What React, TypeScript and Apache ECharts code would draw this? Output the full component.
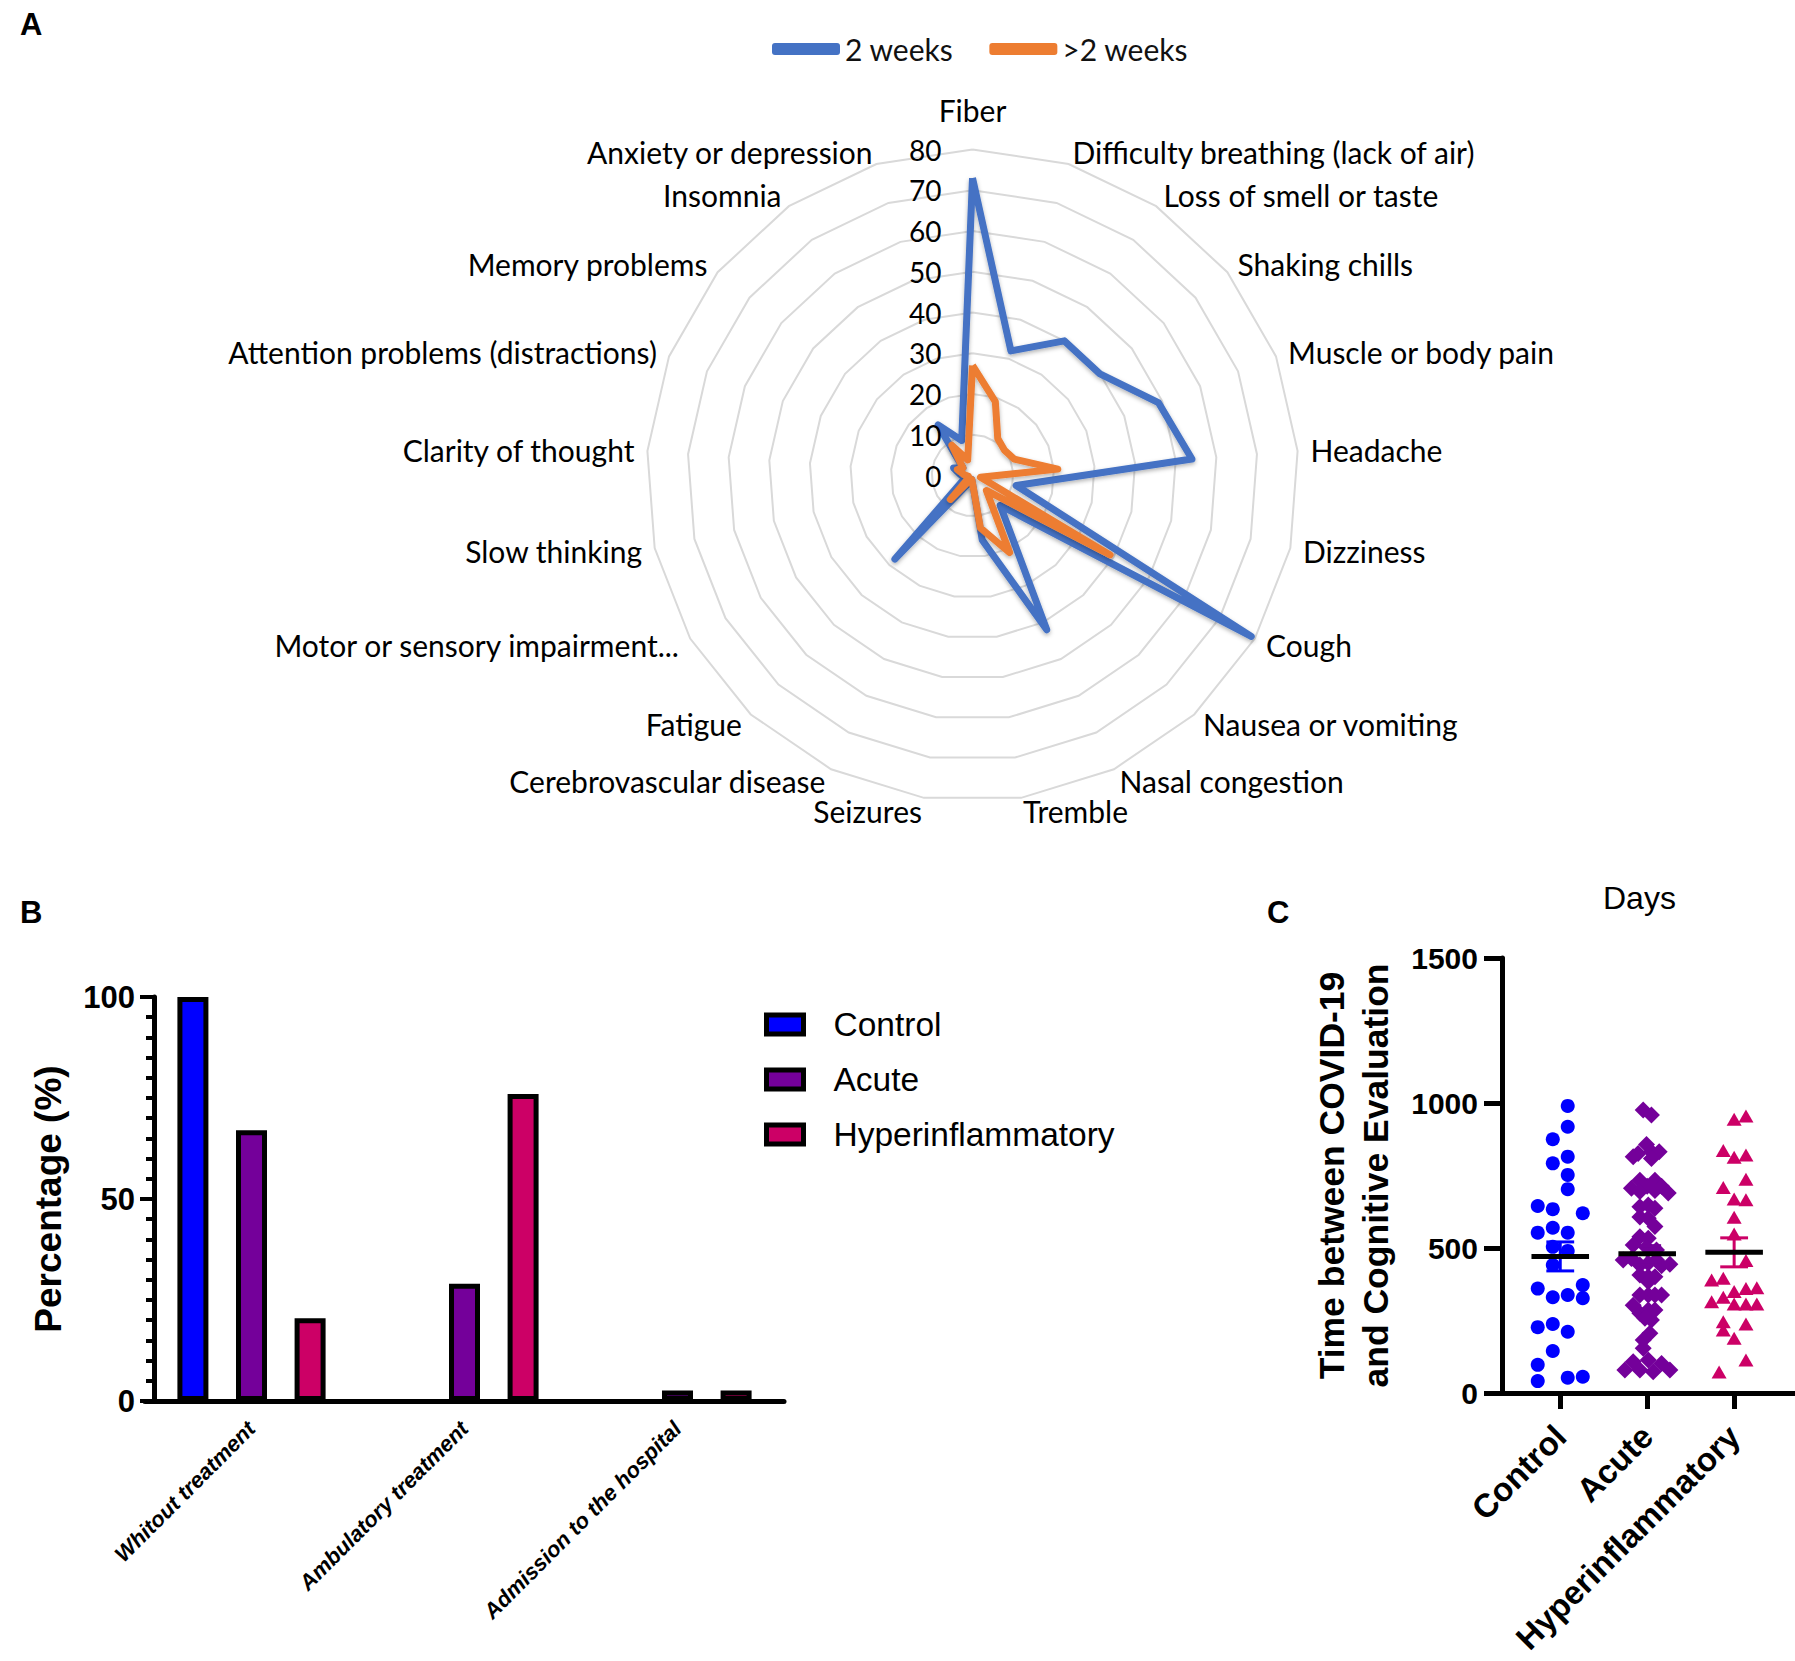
import React, { useEffect, useRef } from "react";
import * as echarts from "echarts";

// ---------- Panel A: radar ----------
const symptomCategories = [
  "Fiber",
  "Difficulty breathing (lack of air)",
  "Loss of smell or taste",
  "Shaking chills",
  "Muscle or body pain",
  "Headache",
  "Dizziness",
  "Cough",
  "Nausea or vomiting",
  "Nasal congestion",
  "Tremble",
  "Seizures",
  "Cerebrovascular disease",
  "Fatigue",
  "Motor or sensory impairment...",
  "Slow thinking",
  "Clarity of thought",
  "Attention problems (distractions)",
  "Memory problems",
  "Insomnia",
  "Anxiety or depression",
];
const twoWeeks = [73, 32, 40, 40, 49, 54, 11, 79, 10, 42, 16, 1, 2, 28, 3, 2, 3, 5, 3, 15, 9];
const moreThanTwoWeeks = [27, 19, 11, 10, 11, 21, 2, 39, 5, 21, 13, 1, 1, 8, 1, 1, 2, 4, 3, 9, 4];
const radarSeriesNames = ["2 weeks", ">2 weeks"];
const radarMax = 80;
const radarTickStep = 10;

// ---------- Panel B: bars ----------
const treatmentCategories = ["Whitout treatment", "Ambulatory treatment", "Admission to the hospital"];
const groupNames = ["Control", "Acute", "Hyperinflammatory"];
const controlPct = [100, 0, 0];
const acutePct = [67, 29, 2.6];
const hyperPct = [20.5, 76, 2.6];

// ---------- Panel C: scatter (days) ----------
const controlDays = [990, 918, 875, 815, 792, 752, 703, 645, 634, 620, 553, 570, 553, 504, 490, 441, 360, 330, 338, 372, 327, 227, 238, 211, 145, 97, 41, 53, 56];
const controlJitter = [0.086, 0.086, -0.086, 0.086, -0.086, 0.086, 0.086, -0.259, -0.086, 0.259, -0.259, -0.086, 0.086, -0.086, 0.086, -0.086, -0.259, -0.086, 0.086, 0.259, 0.259, -0.259, -0.086, 0.086, -0.086, -0.259, -0.259, 0.086, 0.259];
const acuteDays = [976, 959, 857, 826, 832, 832, 809, 815, 706, 734, 713, 734, 713, 690, 695, 698, 642, 648, 637, 607, 603, 574, 539, 534, 510, 503, 493, 459, 464, 441, 447, 459, 439, 444, 407, 401, 401, 384, 338, 338, 338, 338, 303, 275, 286, 286, 258, 252, 206, 183, 154, 79, 108, 79, 114, 73, 102, 79];
const acuteJitter = [-0.046, 0.049, -0.008, -0.104, 0.049, 0.138, 0.049, -0.161, -0.181, -0.084, 0, 0.089, 0.165, 0.242, -0.084, 0.089, -0.084, 0.012, 0.089, -0.084, 0.012, 0.089, -0.084, 0.012, -0.161, -0.008, 0.107, -0.276, -0.181, -0.084, 0.012, 0.107, 0.165, 0.261, -0.084, 0.012, 0.089, 0.012, -0.084, 0.012, 0.089, 0.165, -0.161, -0.084, 0.012, 0.089, -0.026, 0.049, 0.031, -0.046, -0.046, -0.257, -0.161, -0.084, 0.012, 0.069, 0.165, 0.261];
const hyperDays = [944, 955, 836, 813, 821, 737, 709, 669, 666, 606, 548, 457, 390, 396, 350, 360, 363, 315, 330, 307, 307, 307, 246, 238, 217, 189, 114, 72];
const hyperJitter = [0, 0.136, -0.125, 0, 0.136, 0.136, -0.125, 0, 0.136, 0, 0, 0.136, -0.259, -0.125, 0, 0.136, 0.261, -0.259, -0.125, 0, 0.136, 0.261, -0.125, 0.136, -0.125, 0, 0.136, -0.173];
const groupMeans = [471, 480, 485];
const groupSem = [50, 28, 50];
const daysTicks = [0, 500, 1000, 1500];

const ARIAL = "'Liberation Sans', Arial, sans-serif";
const CAL = "Lato, 'Open Sans', sans-serif";
const barColors = ["#0000FF", "#74009A", "#CC0066"];

function buildOption() {
  // radar indicators clockwise (ECharts places them counter-clockwise)
  const order = [0, ...symptomCategories.map((_, i) => i).slice(1).reverse()];
  const indicator = order.map((i) => ({ name: symptomCategories[i], min: 0, max: radarMax }));
  const twoW = order.map((i) => twoWeeks[i]);
  const moreW = order.map((i) => moreThanTwoWeeks[i]);

  const mkScatter = (days: number[], jit: number[], g: number) =>
    days.map((d, i) => [g + 1 + jit[i], d]);

  const barSeries = [controlPct, acutePct, hyperPct].map((vals, i) => ({
    name: groupNames[i],
    type: "bar",
    xAxisIndex: 0,
    yAxisIndex: 0,
    data: vals.map((v) => (v === 0 ? { value: 0, itemStyle: { borderWidth: 0 } } : v)),
    barWidth: 31,
    barGap: "89%",
    itemStyle: { color: barColors[i], borderColor: "#000", borderWidth: 5 },
  }));

  const symbols = ["circle", "diamond", "triangle"];
  const sizes: any[] = [14, 17, [15, 13]];
  const scatterData = [
    mkScatter(controlDays, controlJitter, 0),
    mkScatter(acuteDays, acuteJitter, 1),
    mkScatter(hyperDays, hyperJitter, 2),
  ];
  const scatterSeries = scatterData.map((d, i) => ({
    name: groupNames[i] + " days",
    type: "scatter",
    xAxisIndex: 1,
    yAxisIndex: 1,
    data: d,
    symbol: symbols[i],
    symbolSize: sizes[i],
    itemStyle: { color: barColors[i], opacity: 1 },
    silent: true,
  }));

  const panelLetter = { fontSize: 31, fontWeight: "bold", fontFamily: ARIAL, color: "#000" };

  return {
    animation: false,
    backgroundColor: "#fff",
    title: [
      { text: "A", left: 20, top: 9, padding: 0, textStyle: panelLetter },
      { text: "B", left: 20, top: 897, padding: 0, textStyle: panelLetter },
      { text: "C", left: 1267, top: 897, padding: 0, textStyle: panelLetter },
      { text: "Days", left: 1603, top: 882, padding: 0, textStyle: { fontSize: 32, fontWeight: "normal", fontFamily: ARIAL, color: "#000" } },
    ],
    legend: [
      {
        data: radarSeriesNames,
        left: 767,
        top: 29,
        icon: "roundRect",
        itemWidth: 68,
        itemHeight: 12,
        itemGap: 36,
        textStyle: { fontSize: 30, fontFamily: CAL, color: "#111" },
      },
      {
        data: groupNames,
        orient: "vertical",
        left: 759,
        top: 1002,
        icon: "rect",
        itemWidth: 37,
        itemHeight: 19,
        itemGap: 20,
        itemStyle: { borderColor: "#000", borderWidth: 5 },
        textStyle: { fontSize: 33.5, fontFamily: ARIAL, color: "#000", lineHeight: 35, padding: [0, 0, 0, 25] },
      },
    ],
    radar: {
      center: [972.5, 475.5],
      radius: 326,
      startAngle: 90,
      shape: "polygon",
      splitNumber: radarMax / radarTickStep,
      indicator,
      nameGap: 13,
      axisName: {
        color: "#000",
        fontSize: 30,
        fontFamily: CAL,
        formatter: (name: string) => (name === symptomCategories[0] ? "{top|" + name + "}" : name),
        rich: { top: { fontSize: 30, fontFamily: CAL, color: "#000", padding: [0, 0, 12, 0] } },
      },
      axisLine: { show: false },
      axisTick: { show: false },
      axisLabel: { show: false },
      splitArea: { show: false },
      splitLine: { lineStyle: { color: "#D9D9D9", width: 2 } },
    },
    polar: { center: [972.5, 475.5], radius: 326 },
    angleAxis: { type: "value", min: 0, max: 360, startAngle: 90, show: false },
    radiusAxis: {
      type: "value",
      min: 0,
      max: radarMax,
      interval: radarTickStep,
      axisLine: { show: false },
      axisTick: { show: false },
      splitLine: { show: false },
      axisLabel: { fontSize: 28, fontFamily: CAL, color: "#000", margin: 31 },
      z: 5,
    },
    grid: [
      { left: 145, top: 997, width: 639, height: 404 },
      { left: 1502, top: 958, width: 293, height: 435 },
    ],
    xAxis: [
      {
        type: "category",
        gridIndex: 0,
        data: treatmentCategories,
        axisLine: { lineStyle: { color: "#000", width: 5 } },
        axisTick: { alignWithLabel: true, length: 16, lineStyle: { color: "#000", width: 4 } },
        axisLabel: { rotate: 45, fontSize: 22, fontWeight: "bold", fontStyle: "italic", fontFamily: ARIAL, color: "#000", margin: 24 },
      },
      {
        type: "value",
        gridIndex: 1,
        min: 0.33,
        max: 3.7,
        splitLine: { show: false },
        axisLine: { onZero: false, lineStyle: { color: "#000", width: 5 } },
        axisTick: { show: true, customValues: [1, 2, 3], length: 16, lineStyle: { color: "#000", width: 5 } },
        axisLabel: {
          customValues: [1, 2, 3],
          formatter: (v: number) => groupNames[Math.round(v) - 1] || "",
          rotate: 45,
          fontSize: 33,
          fontWeight: "bold",
          fontFamily: ARIAL,
          color: "#000",
          margin: 38,
        },
      },
    ],
    yAxis: [
      {
        type: "value",
        gridIndex: 0,
        offset: -9,
        min: 0,
        max: 100,
        interval: 50,
        name: "Percentage (%)",
        nameLocation: "middle",
        nameRotate: 90,
        nameGap: 87,
        nameTextStyle: { fontSize: 37, fontWeight: "bold", fontFamily: ARIAL, color: "#000" },
        splitLine: { show: false },
        axisLine: { show: true, lineStyle: { color: "#000", width: 5 } },
        axisTick: { show: true, length: 14, lineStyle: { color: "#000", width: 4 } },
        minorTick: { show: true, splitNumber: 10, length: 8, lineStyle: { color: "#000", width: 4 } },
        axisLabel: { fontSize: 31, fontWeight: "bold", fontFamily: ARIAL, color: "#000", margin: 19 },
      },
      {
        type: "value",
        gridIndex: 1,
        min: daysTicks[0],
        max: daysTicks[daysTicks.length - 1],
        interval: 500,
        name: "Time between COVID-19\nand Cognitive Evaluation",
        nameLocation: "middle",
        nameRotate: 90,
        nameGap: 104,
        nameTextStyle: { fontSize: 35.5, fontWeight: "bold", fontFamily: ARIAL, color: "#000", lineHeight: 44, align: "center" },
        splitLine: { show: false },
        axisLine: { show: true, lineStyle: { color: "#000", width: 5 } },
        axisTick: { show: true, length: 18, lineStyle: { color: "#000", width: 5 } },
        axisLabel: { fontSize: 30, fontWeight: "bold", fontFamily: ARIAL, color: "#000", margin: 24, formatter: (v: number) => String(v) },
      },
    ],
    series: [
      {
        type: "radar",
        symbol: "none",
        data: [{ name: radarSeriesNames[0], value: twoW }],
        itemStyle: { color: "#4472C4" },
        lineStyle: { color: "#4472C4", width: 7, shadowBlur: 4, shadowColor: "rgba(0,0,0,0.3)", shadowOffsetY: 2 },
      },
      {
        type: "radar",
        symbol: "none",
        data: [{ name: radarSeriesNames[1], value: moreW }],
        itemStyle: { color: "#ED7D31" },
        lineStyle: { color: "#ED7D31", width: 7, shadowBlur: 4, shadowColor: "rgba(0,0,0,0.3)", shadowOffsetY: 2 },
      },
      ...barSeries,
      ...scatterSeries,
      {
        type: "custom",
        xAxisIndex: 1,
        yAxisIndex: 1,
        z: 10,
        silent: true,
        data: groupMeans.map((m, i) => [i + 1, m, groupSem[i]]),
        renderItem: (params: any, api: any) => {
          const x = api.value(0);
          const m = api.value(1);
          const s = api.value(2);
          const c = api.coord([x, m]);
          const hi = api.coord([x, m + s]);
          const lo = api.coord([x, m - s]);
          const hw = api.size([0.331, 0])[0];
          const cw = api.size([0.16, 0])[0];
          const col = barColors[params.dataIndex];
          return {
            type: "group",
            children: [
              { type: "line", shape: { x1: c[0], y1: hi[1], x2: c[0], y2: lo[1] }, style: { stroke: col, lineWidth: 3 } },
              { type: "line", shape: { x1: c[0] - cw, y1: hi[1], x2: c[0] + cw, y2: hi[1] }, style: { stroke: col, lineWidth: 3 } },
              { type: "line", shape: { x1: c[0] - cw, y1: lo[1], x2: c[0] + cw, y2: lo[1] }, style: { stroke: col, lineWidth: 3 } },
              { type: "line", shape: { x1: c[0] - hw, y1: c[1], x2: c[0] + hw, y2: c[1] }, style: { stroke: "#000", lineWidth: 5 } },
            ],
          };
        },
      },
    ],
  };
}

export default function App() {
  const ref = useRef<HTMLDivElement>(null);
  useEffect(() => {
    if (!ref.current) return;
    const chart = echarts.init(ref.current, null, { renderer: "svg" });
    chart.setOption(buildOption() as any);
    return () => chart.dispose();
  }, []);
  return (
    <div
      ref={ref}
      style={{ position: "absolute", left: 0, top: 0, width: 1795, height: 1661, background: "#fff" }}
    />
  );
}
